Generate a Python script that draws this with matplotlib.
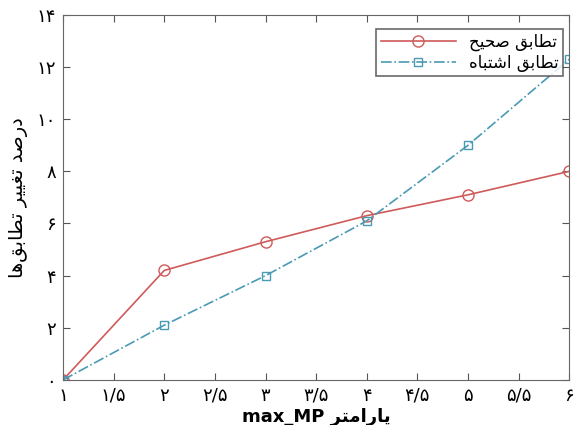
import matplotlib
matplotlib.use('Agg')
import matplotlib.pyplot as plt

# values
x_vals = [1, 2, 3, 4, 5, 6]
correct = [0, 4.2, 5.3, 6.3, 7.1, 8.0]
wrong = [0, 2.1, 4.0, 6.1, 9.0, 12.3]
x_ticks = [1, 1.5, 2, 2.5, 3, 3.5, 4, 4.5, 5, 5.5, 6]
y_ticks = [0, 2, 4, 6, 8, 10, 12, 14]

# minimal persian shaping: (isolated, final, initial, medial)
FORMS = {
    'ا': ('\uFE8D', '\uFE8E', None, None),
    'ب': ('\uFE8F', '\uFE90', '\uFE91', '\uFE92'),
    'پ': ('\uFB56', '\uFB57', '\uFB58', '\uFB59'),
    'ت': ('\uFE95', '\uFE96', '\uFE97', '\uFE98'),
    'ح': ('\uFEA1', '\uFEA2', '\uFEA3', '\uFEA4'),
    'د': ('\uFEA9', '\uFEAA', None, None),
    'ر': ('\uFEAD', '\uFEAE', None, None),
    'ش': ('\uFEB5', '\uFEB6', '\uFEB7', '\uFEB8'),
    'ص': ('\uFEB9', '\uFEBA', '\uFEBB', '\uFEBC'),
    'ط': ('\uFEC1', '\uFEC2', '\uFEC3', '\uFEC4'),
    'غ': ('\uFECD', '\uFECE', '\uFECF', '\uFED0'),
    'ق': ('\uFED5', '\uFED6', '\uFED7', '\uFED8'),
    'م': ('\uFEE1', '\uFEE2', '\uFEE3', '\uFEE4'),
    'ه': ('\uFEE9', '\uFEEA', '\uFEEB', '\uFEEC'),
    'ی': ('\uFBFC', '\uFBFD', '\uFBFE', '\uFBFF'),
}


def joins_next(c):
    return c in FORMS and FORMS[c][2] is not None


def shape_word(word):
    out = []
    for i, c in enumerate(word):
        if c not in FORMS:
            if c != '\u200c':
                out.append(c)
            continue
        prev = word[i - 1] if i > 0 else ''
        nxt = word[i + 1] if i + 1 < len(word) else ''
        left = joins_next(prev)
        right = joins_next(c) and nxt in FORMS
        f = FORMS[c]
        if left and right:
            out.append(f[3])
        elif left:
            out.append(f[1])
        elif right:
            out.append(f[2])
        else:
            out.append(f[0])
    return ''.join(out[::-1])


def fa(text):
    # reverse word order for RTL display
    return ' '.join(shape_word(w) for w in text.split(' ')[::-1])


def fa_num(v):
    digits = '۰۱۲۳۴۵۶۷۸۹'
    s = ('%g' % v).replace('.', '/')
    return ''.join(digits[int(ch)] if ch.isdigit() else ch for ch in s)


plt.rcParams['font.family'] = ['DejaVu Sans']

fig = plt.figure(figsize=(5.78, 4.25), dpi=100)
ax = fig.add_axes([0.109, 0.106, 0.876, 0.859])

red = '#d05a5a'
blue = '#4a9ab5'
ax.plot(x_vals, correct, color=red, lw=1.2, marker='o', ms=8, mfc='none',
        mec=red, label=fa('تطابق صحیح'))
ax.plot(x_vals, wrong, color=blue, lw=1.2, ls='-.', marker='s', ms=6,
        mfc='none', mec=blue, label=fa('تطابق اشتباه'))

ax.set_xlim(1, 6)
ax.set_ylim(0, 14)
ax.set_xticks(x_ticks)
ax.set_xticklabels([fa_num(v) for v in x_ticks], fontsize=13)
ax.set_yticks(y_ticks)
ax.set_yticklabels([fa_num(v) for v in y_ticks], fontsize=13)
ax.tick_params(direction='in', top=True, right=True, length=5, color='#555555',
               pad=5)
for s in ax.spines.values():
    s.set_color('#666666')

ax.set_xlabel('max_MP ' + fa('پارامتر'), fontsize=13, fontweight='bold', labelpad=2)
ax.set_ylabel(fa('درصد تغییر تطابق‌ها'), fontsize=14, labelpad=6)

leg = ax.legend(loc='upper right', bbox_to_anchor=(0.997, 0.975), fontsize=12,
                frameon=True, fancybox=False, edgecolor='#444444',
                handlelength=4.5, borderpad=0.25, labelspacing=0.15,
                borderaxespad=0.3)
leg.get_frame().set_linewidth(1.2)

fig.savefig('out.png', dpi=100)
